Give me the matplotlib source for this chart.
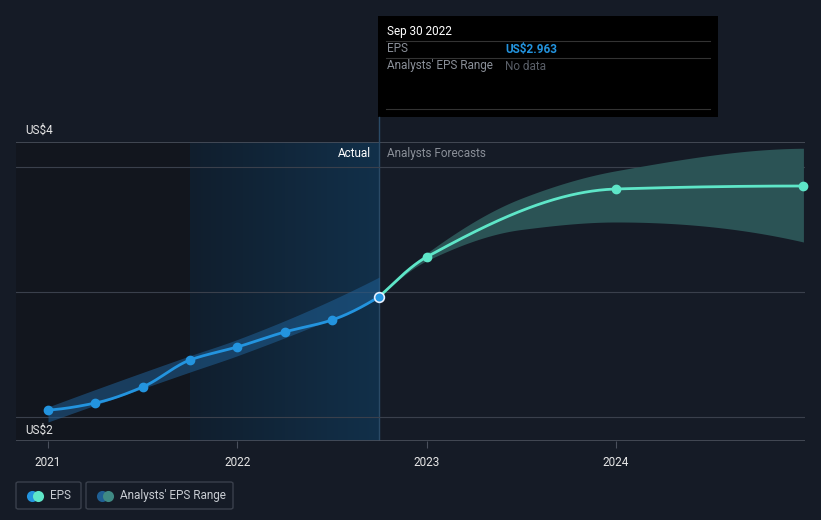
import numpy as np
import matplotlib
matplotlib.use("Agg")
import matplotlib.pyplot as plt
from matplotlib.patches import Rectangle, FancyBboxPatch
from matplotlib.lines import Line2D

# ---------------- data ----------------
past_x = [2021.0, 2021.25, 2021.5, 2021.75, 2022.0, 2022.25, 2022.5, 2022.75]
past_eps = [2.056, 2.112, 2.24, 2.456, 2.56, 2.68, 2.776, 2.963]

past_band_x = [2021.0, 2021.75, 2022.0, 2022.75]
past_band_low = [1.96, 2.36, 2.49, 2.95]
past_band_high = [2.08, 2.49, 2.62, 3.12]

fc_x = [2022.75, 2023.0, 2024.0, 2024.99]
fc_eps = [2.963, 3.28, 3.824, 3.848]
fc_band_x = [2022.75, 2023.0, 2023.5, 2024.0, 2024.99]
fc_band_low = [2.963, 3.25, 3.50, 3.56, 3.40]
fc_band_high = [2.963, 3.31, 3.75, 3.97, 4.15]

year_ticks = [2021, 2022, 2023, 2024]
year_labels = ["2021", "2022", "2023", "2024"]
y_labels = ["US$4", "US$2"]

tooltip_date = "Sep 30 2022"
tooltip_eps = "US$2.963"

# ---------------- helpers ----------------
def pchip(x, y, xs):
    x = np.asarray(x, float); y = np.asarray(y, float)
    h = np.diff(x); d = np.diff(y) / h
    n = len(x)
    m = np.zeros(n)
    for k in range(1, n - 1):
        if d[k - 1] * d[k] <= 0:
            m[k] = 0
        else:
            w1 = 2 * h[k] + h[k - 1]; w2 = h[k] + 2 * h[k - 1]
            m[k] = (w1 + w2) / (w1 / d[k - 1] + w2 / d[k])
    m[0] = d[0]; m[-1] = d[-1]
    if n > 2:
        m[0] = ((2 * h[0] + h[1]) * d[0] - h[0] * d[1]) / (h[0] + h[1])
        if np.sign(m[0]) != np.sign(d[0]): m[0] = 0
        m[-1] = ((2 * h[-1] + h[-2]) * d[-1] - h[-1] * d[-2]) / (h[-1] + h[-2])
        if np.sign(m[-1]) != np.sign(d[-1]): m[-1] = 0
    xs = np.asarray(xs, float)
    idx = np.clip(np.searchsorted(x, xs) - 1, 0, n - 2)
    t = (xs - x[idx]) / h[idx]
    h00 = 2 * t**3 - 3 * t**2 + 1; h10 = t**3 - 2 * t**2 + t
    h01 = -2 * t**3 + 3 * t**2; h11 = t**3 - t**2
    return h00 * y[idx] + h10 * h[idx] * m[idx] + h01 * y[idx + 1] + h11 * h[idx] * m[idx + 1]

W, H = 821, 520
BG = "#151b26"
fig = plt.figure(figsize=(W / 100, H / 100), dpi=100, facecolor=BG)

px0, px1 = 16, 805
py_top, py_bot = 142, 441
ax = fig.add_axes([px0 / W, 1 - py_bot / H, (px1 - px0) / W, (py_bot - py_top) / H])
ax.set_facecolor(BG)

def xpix(p):
    return 2021 + (p - 48) / 189.33
def ypix(p):
    return 2 + (417 - p) / 125.0

ax.set_xlim(xpix(px0), xpix(px1))
ax.set_ylim(ypix(py_bot), ypix(py_top))
for s in ax.spines.values():
    s.set_visible(False)
ax.set_yticks([])
ax.set_xticks(year_ticks)
ax.set_xticklabels(year_labels, color="#e6e6e6", fontsize=8.5, family="Roboto")
ax.tick_params(axis="x", length=5, color="#4a505c", pad=6)

x_lo, x_hi = ax.get_xlim()
y_lo, y_hi = ax.get_ylim()

# background regions
ax.axvspan(x_lo, 2021.75, color="#12161e", zorder=0, lw=0)
grad = np.linspace(0, 1, 256).reshape(1, -1)
from matplotlib.colors import LinearSegmentedColormap
cm = LinearSegmentedColormap.from_list("g", ["#101e2d", "#12304a"])
ax.imshow(grad, cmap=cm, extent=[2021.75, 2022.75, y_lo, y_hi], aspect="auto", zorder=0.5)
ax.axvline(2022.75, color="#2a4a66", lw=1, zorder=1)

# grid lines
for v in [2.0, 3.0, 4.0]:
    ax.axhline(v, color="#3a404c", lw=0.8, zorder=1)
ax.axhline(y_hi - 0.002, color="#4a505c", lw=1.2, zorder=1)
ax.axhline(y_lo + 0.003, color="#4a505c", lw=1.2, zorder=1)

# past band
xs_b = np.linspace(past_band_x[0], past_band_x[-1], 200)
ax.fill_between(xs_b, pchip(past_band_x, past_band_low, xs_b), pchip(past_band_x, past_band_high, xs_b),
                color="#1f5f94", alpha=0.55, lw=0, zorder=2)

# forecast band
xs_f = np.linspace(fc_band_x[0], fc_band_x[-1], 300)
ax.fill_between(xs_f, pchip(fc_band_x, fc_band_low, xs_f), pchip(fc_band_x, fc_band_high, xs_f),
                color="#2b5355", lw=0, zorder=2)

# past EPS line (slightly smoothed)
xs_p = np.linspace(past_x[0], past_x[-1], 300)
ax.plot(xs_p, pchip(past_x, past_eps, xs_p), color="#2394df", lw=2, zorder=3, solid_capstyle="round")
ax.plot(past_x[:-1], past_eps[:-1], "o", color="#2394df", ms=6, zorder=4)

# forecast line
xs_fc = np.linspace(fc_x[0], fc_x[-1], 300)
ax.plot(xs_fc, pchip(fc_x, fc_eps, xs_fc), color="#5ee6c8", lw=2, zorder=3)
ax.plot(fc_x[1:], fc_eps[1:], "o", color="#5ee6c8", ms=6, zorder=4, clip_on=False)
ax.plot([past_x[-1]], [past_eps[-1]], "o", color="#2394df", ms=7, mec="#e6f0ff", mew=1.2, zorder=5)

# Actual / Forecast labels
ax.text(xpix(371), ypix(154), "Actual", color="#ffffff", fontsize=8.5, ha="right", va="center", family="Roboto")
ax.text(xpix(387), ypix(154), "Analysts Forecasts", color="#8a8f98", fontsize=8.5, ha="left", va="center", family="Roboto")

# y labels
fig.text(25 / W, 1 - 130 / H, y_labels[0], color="#e6e6e6", fontsize=8.5, va="center", family="Roboto")
fig.text(25 / W, 1 - 430 / H, y_labels[1], color="#e6e6e6", fontsize=8.5, va="center", family="Roboto")

# vertical line from tooltip
fig.add_artist(Line2D([379 / W, 379 / W], [1 - 117 / H, 1 - 142 / H], color="#2a4a66", lw=1))

# tooltip
fig.add_artist(Rectangle((378 / W, 1 - 117 / H), (718 - 378) / W, (117 - 16) / H,
                         facecolor="#000000", edgecolor="none"))
fig.text(387 / W, 1 - 31 / H, tooltip_date, color="#ffffff", fontsize=8.5, va="center", family="Roboto")
for yy in [41, 58, 109]:
    fig.add_artist(Line2D([386 / W, 710 / W], [1 - yy / H, 1 - yy / H], color="#333333", lw=0.8))
fig.text(387 / W, 1 - 49 / H, "EPS", color="#8a8f98", fontsize=8.5, va="center", family="Roboto")
fig.text(505 / W, 1 - 49 / H, tooltip_eps, color="#2394df", fontsize=8.5, va="center",
         family="Roboto", weight="bold")
fig.text(387 / W, 1 - 66 / H, "Analysts' EPS Range", color="#8a8f98", fontsize=8.5, va="center", family="Roboto")
fig.text(505 / W, 1 - 66 / H, "No data", color="#5a5f68", fontsize=8.5, va="center", family="Roboto")

# legend
def legbox(x0, x1, c1, c2, label):
    fig.add_artist(FancyBboxPatch((x0 / W, 1 - 509 / H), (x1 - x0) / W, 27 / H,
                                  boxstyle="round,pad=0,rounding_size=0.003",
                                  facecolor="none", edgecolor="#3a404c", lw=1))
    fig.add_artist(Line2D([(x0 + 16) / W], [1 - 495.5 / H], marker="o", ms=8, color=c1, mec="none"))
    fig.add_artist(Line2D([(x0 + 22) / W], [1 - 495.5 / H], marker="o", ms=8, color=c2, mec="none"))
    fig.text((x0 + 34) / W, 1 - 495.5 / H, label, color="#c8ccd2", fontsize=8.5, va="center", family="Roboto")

legbox(16, 81, "#2394df", "#5ee6c8", "EPS")
legbox(86, 233, "#1f5f94", "#3f8a84", "Analysts' EPS Range")

fig.savefig("out.png", dpi=100, facecolor=BG)
